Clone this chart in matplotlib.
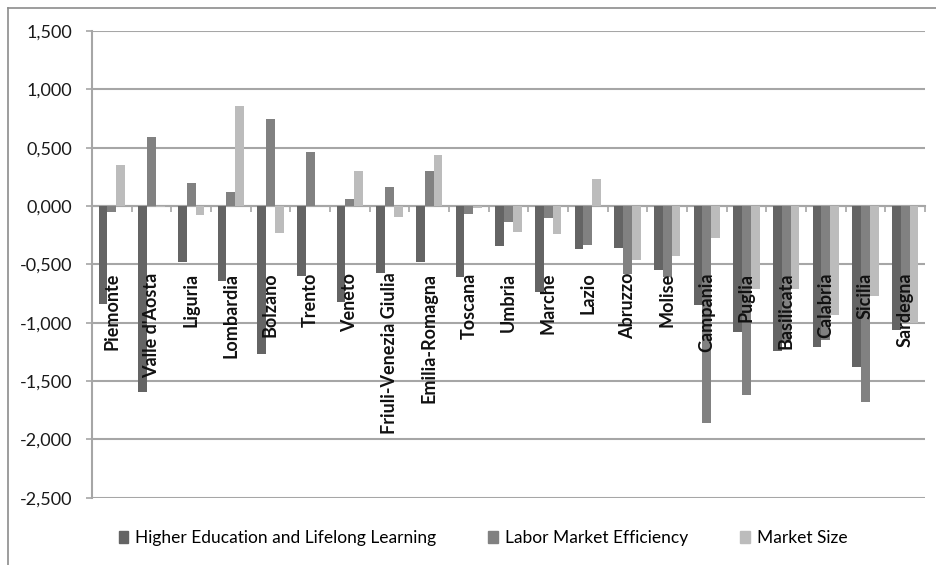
import numpy as np
import matplotlib
matplotlib.use("Agg")
import matplotlib.pyplot as plt
from matplotlib.lines import Line2D
from matplotlib.patches import Patch

# data
regions = ["Piemonte", "Valle d'Aosta", "Liguria", "Lombardia", "Bolzano", "Trento", "Veneto",
           "Friuli-Venezia Giulia", "Emilia-Romagna", "Toscana", "Umbria", "Marche", "Lazio",
           "Abruzzo", "Molise", "Campania", "Puglia", "Basilicata", "Calabria", "Sicilia", "Sardegna"]
higher_edu = [-0.84, -1.59, -0.48, -0.64, -1.27, -0.60, -0.82, -0.57, -0.48, -0.61, -0.34,
              -0.74, -0.37, -0.36, -0.55, -0.85, -1.08, -1.24, -1.21, -1.38, -1.06]
labor_eff = [-0.05, 0.59, 0.20, 0.12, 0.75, 0.46, 0.06, 0.16, 0.30, -0.07, -0.14,
             -0.10, -0.33, -0.58, -0.61, -1.86, -1.62, -1.17, -1.15, -1.68, -0.98]
market_size = [0.35, -0.01, -0.08, 0.86, -0.23, 0.0, 0.30, -0.09, 0.44, -0.02, -0.22,
               -0.24, 0.23, -0.46, -0.43, -0.27, -0.71, -0.71, -0.93, -0.77, -1.00]
series_names = ["Higher Education and Lifelong Learning", "Labor Market Efficiency", "Market Size"]
yticks = [1.5, 1.0, 0.5, 0.0, -0.5, -1.0, -1.5, -2.0, -2.5]

plt.rcParams['font.family'] = ['Lato', 'DejaVu Sans']

colors = ["#646464", "#818181", "#bcbcbc"]
grid_col = "#a6a6a6"

fig = plt.figure(figsize=(9.36, 5.65), dpi=100)
ax = fig.add_axes([92 / 936, 1 - 497.7 / 565, 833 / 936, (497.7 - 31) / 565])
ax.set_axisbelow(True)

x = np.arange(len(regions))
w = 0.22
for k, vals in enumerate([higher_edu, labor_eff, market_size]):
    ax.bar(x + (k - 1) * w, vals, width=w, color=colors[k], zorder=3, label=series_names[k])

ax.set_xlim(-0.5, len(regions) - 0.5)
ax.set_ylim(-2.5, 1.5)
ax.set_yticks(yticks)
ax.set_yticklabels([("%.3f" % v).replace(".", ",") for v in yticks], fontsize=13, color="#1a1a1a")
ax.yaxis.grid(True, color=grid_col, linewidth=1.5)
ax.tick_params(axis="y", length=4, width=1.2, color=grid_col, pad=10)

for s in ["top", "right"]:
    ax.spines[s].set_visible(False)
ax.spines["left"].set_color(grid_col)
ax.spines["left"].set_linewidth(1.5)
ax.spines["bottom"].set_position(("data", 0))
ax.spines["bottom"].set_color(grid_col)
ax.spines["bottom"].set_linewidth(1.5)

ax.set_xticks(np.arange(len(regions) + 1) - 0.5)
ax.set_xticklabels([])
ax.tick_params(axis="x", length=4, width=1.2, color=grid_col)

# category labels drawn on top of the bars
for i, name in enumerate(regions):
    ax.annotate(name, xy=(x[i], 0), xytext=(0, -48), textcoords="offset points",
                rotation=90, ha="center", va="top", fontsize=13, fontweight="bold",
                color="#111111", zorder=6)

# chart frame (top and left visible)
fig.add_artist(Line2D([8 / 936, 8 / 936], [0, 1 - 8 / 565], color="#8c8c8c", lw=1.2))
fig.add_artist(Line2D([8 / 936, 1], [1 - 8 / 565, 1 - 8 / 565], color="#8c8c8c", lw=1.2))

handles = [Patch(color=c) for c in colors]
fig.legend(handles, series_names, loc="center", bbox_to_anchor=(483 / 936, 1 - 538 / 565),
           ncol=3, frameon=False, fontsize=12.5, handlelength=0.55, handleheight=0.65,
           handletextpad=0.4, columnspacing=3.0)

fig.savefig("out.png", dpi=100)
